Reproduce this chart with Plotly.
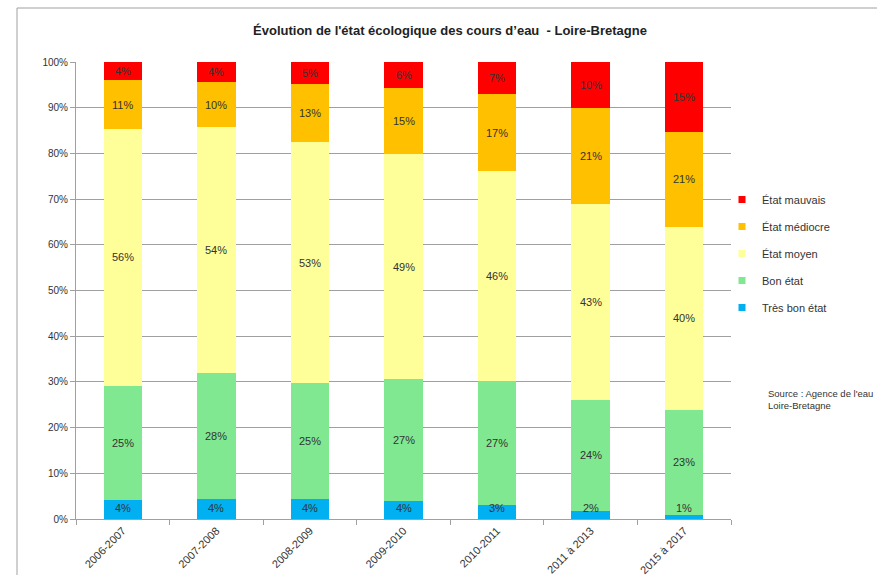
import plotly.graph_objects as go

categories = ["2006-2007", "2007-2008", "2008-2009", "2009-2010", "2010-2011", "2011 à 2013", "2015 à 2017"]
tres_bon = [4.2, 4.4, 4.4, 4.0, 3.1, 1.8, 0.9]
bon = [25.0, 27.6, 25.3, 26.6, 27.1, 24.2, 23.0]
moyen = [56.2, 53.8, 52.8, 49.2, 45.9, 42.9, 40.0]
mediocre = [10.6, 9.8, 12.6, 14.6, 16.9, 21.0, 20.8]
mauvais = [4.0, 4.4, 4.9, 5.6, 7.0, 10.1, 15.3]

series = [
    ("Très bon état", tres_bon, "#00B0F0"),
    ("Bon état", bon, "#80E890"),
    ("État moyen", moyen, "#FFFF99"),
    ("État médiocre", mediocre, "#FFC000"),
    ("État mauvais", mauvais, "#FF0000"),
]

W, H = 877, 575
L, R, T, B = 76, 146, 62, 56
pw, ph = W - L - R, H - T - B

def px_x(px):
    return (px - L) / pw

def px_y(py):
    return (H - B - py) / ph

fig = go.Figure()
annotations = []
base = [0.0] * len(categories)
for i, (name, vals, col) in enumerate(series):
    fig.add_trace(go.Bar(
        x=categories, y=[v / 100 for v in vals], name=name,
        marker=dict(color=col, line=dict(width=0)),
        showlegend=False, hoverinfo="skip",
    ))
    for j, v in enumerate(vals):
        mid = base[j] + v / 2
        ypos = max(mid, 2.4)
        annotations.append(dict(
            x=categories[j], y=ypos / 100, xref="x", yref="y",
            text=f"{round(v)}%", showarrow=False,
            font=dict(family="Liberation Sans", size=11, color="#333333")))
        base[j] += v

# legend entries (small square symbols), top item = État mauvais
for i, (name, vals, col) in reversed(list(enumerate(series))):
    fig.add_trace(go.Scatter(
        x=[None], y=[None], mode="markers", name=name,
        marker=dict(symbol="square", size=7, color=col),
        legendgroup=str(i), showlegend=True, hoverinfo="skip",
    ))

annotations.append(dict(text="Source : Agence de l'eau<br>Loire-Bretagne",
                        showarrow=False, xref="paper", yref="paper",
                        x=px_x(766), y=px_y(386), xanchor="left", yanchor="top", align="left",
                        font=dict(family="Liberation Sans", size=9.5, color="#333333")))

fig.update_layout(
    width=W, height=H,
    margin=dict(l=L, r=R, t=T, b=B, autoexpand=False),
    paper_bgcolor="white", plot_bgcolor="white",
    barmode="stack", bargap=0.59,
    title=dict(text="Évolution de l'état écologique des cours d’eau  - Loire-Bretagne",
               x=450 / W, xanchor="center", y=1 - 30 / H, yanchor="middle",
               font=dict(family="Liberation Sans", size=13, color="#222222", weight="bold")),
    font=dict(family="Liberation Sans", color="#333333"),
    legend=dict(x=px_x(722), xanchor="left", y=px_y(185), yanchor="top",
                traceorder="grouped", tracegroupgap=8,
                font=dict(size=11, color="#333333"), itemwidth=30,
                bgcolor="rgba(0,0,0,0)"),
    xaxis=dict(showline=True, linecolor="#A0A0A0", linewidth=1,
               ticks="outside", tickson="boundaries", ticklen=5, tickcolor="#A0A0A0",
               tickangle=-45, tickfont=dict(size=11, color="#333333"),
               showgrid=False, automargin=False),
    yaxis=dict(range=[0, 1], tickformat=".0%", dtick=0.1,
               showline=True, linecolor="#A0A0A0", linewidth=1,
               ticks="outside", ticklen=5, tickcolor="#A0A0A0",
               showgrid=True, gridcolor="#A0A0A0", gridwidth=1,
               tickfont=dict(size=10, color="#333333"), zeroline=False, automargin=False),
    annotations=annotations,
    shapes=[dict(type="rect", xref="paper", yref="paper",
                 x0=px_x(17), x1=px_x(950), y0=px_y(700), y1=px_y(8),
                 line=dict(color="#A0A0A0", width=1), layer="below")],
)
fig.write_html("out.html")
